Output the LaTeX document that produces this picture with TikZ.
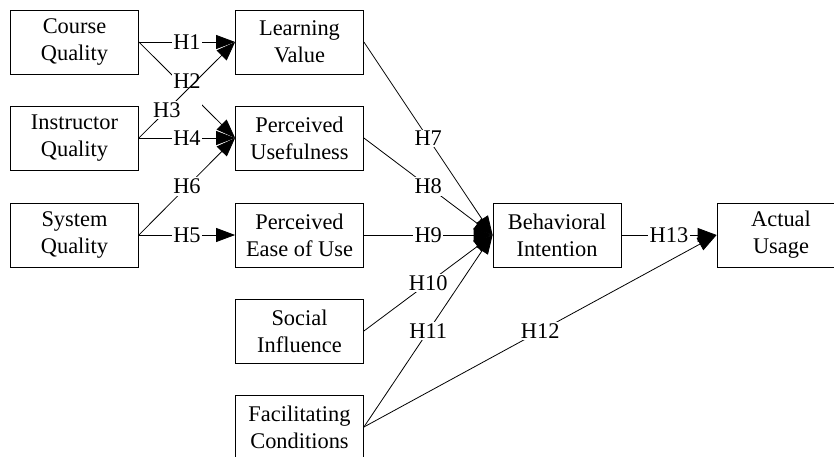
\documentclass[tikz,border=0pt]{standalone}
\usepackage{fontspec}
\setmainfont{Liberation Serif}
\usetikzlibrary{arrows.meta}
\begin{document}
\begin{tikzpicture}[x=1pt,y=-1pt,
  txt/.style={font=\fontsize{22.4}{27}\selectfont},
  box/.style={txt, draw, line width=0.8pt, minimum width=128pt, minimum height=64pt, align=center, inner sep=0pt},
  hyp/.style={txt, fill=white, inner sep=1.5pt},
  link/.style={line width=0.8pt, -{Triangle[length=19pt,width=14pt]}}]
\useasboundingbox (0,0) rectangle (834,457);
\node[box] (cq) at (74.5,42) {Course\\Quality};
\node[box] (lv) at (299.5,42) {Learning\\Value};
\node[box] (iq) at (74.5,138) {Instructor\\Quality};
\node[box] (pu) at (299.5,138) {Perceived\\Usefulness};
\node[box] (sq) at (74.5,235) {System\\Quality};
\node[box] (peu) at (299.5,235) {Perceived\\Ease of Use};
\node[box] (si) at (299.5,331) {Social\\Influence};
\node[box] (fc) at (299.5,427) {Facilitating\\Conditions};
\node[box] (bi) at (557,235) {Behavioral\\Intention};
\node[box] (au) at (781,235) {Actual\\Usage};
\draw[link] (cq.east) -- node[hyp]{H1} (lv.west);
\draw[link] (cq.east) -- node[hyp, text depth=18pt]{H2} (pu.west);
\draw[link] (iq.east) -- node[hyp, pos=0.29]{H3} (lv.west);
\draw[link] (iq.east) -- node[hyp]{H4} (pu.west);
\draw[link] (sq.east) -- node[hyp]{H6} (pu.west);
\draw[link] (sq.east) -- node[hyp]{H5} (peu.west);
\draw[link] (lv.east) -- node[hyp]{H7} (bi.west);
\draw[link] (pu.east) -- node[hyp]{H8} (bi.west);
\draw[link] (peu.east) -- node[hyp]{H9} (bi.west);
\draw[link] (si.east) -- node[hyp]{H10} (bi.west);
\draw[link] (fc.east) -- node[hyp]{H11} (bi.west);
\draw[link] (fc.east) -- node[hyp]{H12} (au.west);
\draw[link] (bi.east) -- node[hyp]{H13} (au.west);
\end{tikzpicture}
\end{document}
